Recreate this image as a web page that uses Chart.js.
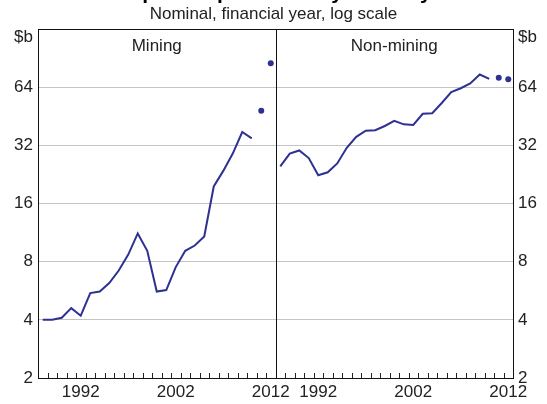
<!DOCTYPE html>
<html>
<head>
<meta charset="utf-8">
<script src="https://cdn.jsdelivr.net/npm/chart.js@4.4.1/dist/chart.umd.min.js"></script>
<style>
html, body { margin: 0; padding: 0; background: #fff; }
#wrap { width: 547px; height: 404px; position: relative; }
</style>
</head>
<body>
<div id="wrap"><canvas id="capex"></canvas></div>
<script>
// financial years, one slot per year in each panel
const years = [1988, 1989, 1990, 1991, 1992, 1993, 1994, 1995, 1996, 1997, 1998, 1999, 2000,
               2001, 2002, 2003, 2004, 2005, 2006, 2007, 2008, 2009, 2010, 2011, 2012];
// $b
const mining = [4.0, 4.0, 4.1, 4.6, 4.2, 5.5, 5.6, 6.2, 7.2, 8.7, 11.2, 9.1, 5.6,
                5.7, 7.5, 9.1, 9.7, 10.8, 19.6, 23.6, 29.0, 37.5, 34.8, null, null];
const miningExpected = [null, null, null, null, null, null, null, null, null, null, null, null, null,
                        null, null, null, null, null, null, null, null, null, null, 48.3, 85.1];
const nonMining = [24.9, 29.0, 30.1, 27.5, 22.4, 23.2, 25.8, 31.1, 35.4, 38.1, 38.3, 40.3, 42.8,
                   41.1, 40.8, 46.6, 46.9, 53.0, 60.3, 63.2, 66.9, 74.4, 70.6, null, null];
const nonMiningExpected = [null, null, null, null, null, null, null, null, null, null, null, null, null,
                           null, null, null, null, null, null, null, null, null, null, 71.5, 70.4];
const yTicks = [2, 4, 8, 16, 32, 64];
const panelNames = ["Mining", "Non-mining"];

const blank = years.map(() => null);
const FONT = "'Liberation Sans', Arial, sans-serif";
const INK = "#2e3192";

const panelPlugin = {
    id: "panels",
    afterDraw(chart) {
        const ctx = chart.ctx;
        const a = chart.chartArea;
        const x = chart.scales.x;
        const step = x.getPixelForValue(1) - x.getPixelForValue(0);
        const split = x.getPixelForValue(years.length) - step / 2;
        ctx.save();
        // little inward ticks at year boundaries
        ctx.strokeStyle = "#222";
        ctx.lineWidth = 1;
        ctx.beginPath();
        for (let i = 0; i <= years.length * 2; i++) {
            const px = Math.round(x.getPixelForValue(i) - step / 2) + 0.5;
            ctx.moveTo(px, a.bottom);
            ctx.lineTo(px, a.bottom - 5);
        }
        ctx.stroke();
        // frame and divider
        ctx.strokeStyle = "#111";
        ctx.strokeRect(Math.round(a.left) + 0.5, Math.round(a.top) + 0.5,
                       Math.round(a.right - a.left), Math.round(a.bottom - a.top));
        ctx.beginPath();
        ctx.moveTo(Math.round(split) + 0.5, a.top);
        ctx.lineTo(Math.round(split) + 0.5, a.bottom);
        ctx.stroke();
        // texts
        ctx.fillStyle = "#222";
        ctx.textBaseline = "middle";
        ctx.font = "17px " + FONT;
        ctx.textAlign = "center";
        ctx.fillText(panelNames[0], (a.left + split) / 2, a.top + 17);
        ctx.fillText(panelNames[1], (split + a.right) / 2, a.top + 17);
        ctx.textAlign = "right";
        ctx.fillText("$b", a.left - 5, a.top + 8);
        ctx.textAlign = "left";
        ctx.fillText("$b", a.right + 5, a.top + 8);
        ctx.textAlign = "center";
        ctx.fillText("Nominal, financial year, log scale", chart.width / 2, 14);
        ctx.font = "bold 21px " + FONT;
        ctx.textBaseline = "alphabetic";
        ctx.fillStyle = "#000";
        ctx.fillText("Capital Expenditure by Industry", chart.width / 2, -1);
        ctx.restore();
    }
};

const yAxis = (pos) => ({
    type: "logarithmic",
    position: pos,
    min: 2,
    max: 128,
    afterBuildTicks: s => { s.ticks = yTicks.map(v => ({ value: v })); },
    afterFit: s => { s.width = pos === "left" ? 38 : 34; },
    border: { display: false },
    grid: { display: pos === "left", color: "#c4c4c4", drawTicks: false },
    ticks: {
        padding: 5,
        color: "#222",
        font: { family: FONT, size: 17 },
        callback: v => String(v)
    }
});

new Chart(document.getElementById("capex"), {
    type: "line",
    data: {
        labels: years.concat(years),
        datasets: [
            { data: mining.concat(blank), yAxisID: "y", borderColor: INK, borderWidth: 2, pointRadius: 0 },
            { data: blank.concat(nonMining), yAxisID: "y", borderColor: INK, borderWidth: 2, pointRadius: 0 },
            { data: miningExpected.concat(nonMiningExpected), yAxisID: "y", showLine: false,
              pointRadius: 3, pointBackgroundColor: INK, pointBorderWidth: 0 }
        ]
    },
    plugins: [panelPlugin],
    options: {
        responsive: true,
        maintainAspectRatio: false,
        animation: false,
        devicePixelRatio: 1,
        layout: { padding: { top: 29, left: 0, right: 0, bottom: 0 } },
        plugins: { legend: { display: false }, tooltip: { enabled: false } },
        scales: {
            x: {
                type: "category",
                offset: true,
                afterFit: s => { s.height = 26; },
                border: { display: false },
                grid: { display: false, drawTicks: false },
                ticks: {
                    autoSkip: false,
                    maxRotation: 0,
                    padding: 4,
                    color: "#222",
                    font: { family: FONT, size: 17 },
                    callback: function(v) {
                        const yr = this.getLabelForValue(v);
                        return yr % 10 === 2 ? String(yr) : "";
                    }
                }
            },
            y: yAxis("left"),
            y2: yAxis("right")
        }
    }
});
</script>
</body>
</html>
